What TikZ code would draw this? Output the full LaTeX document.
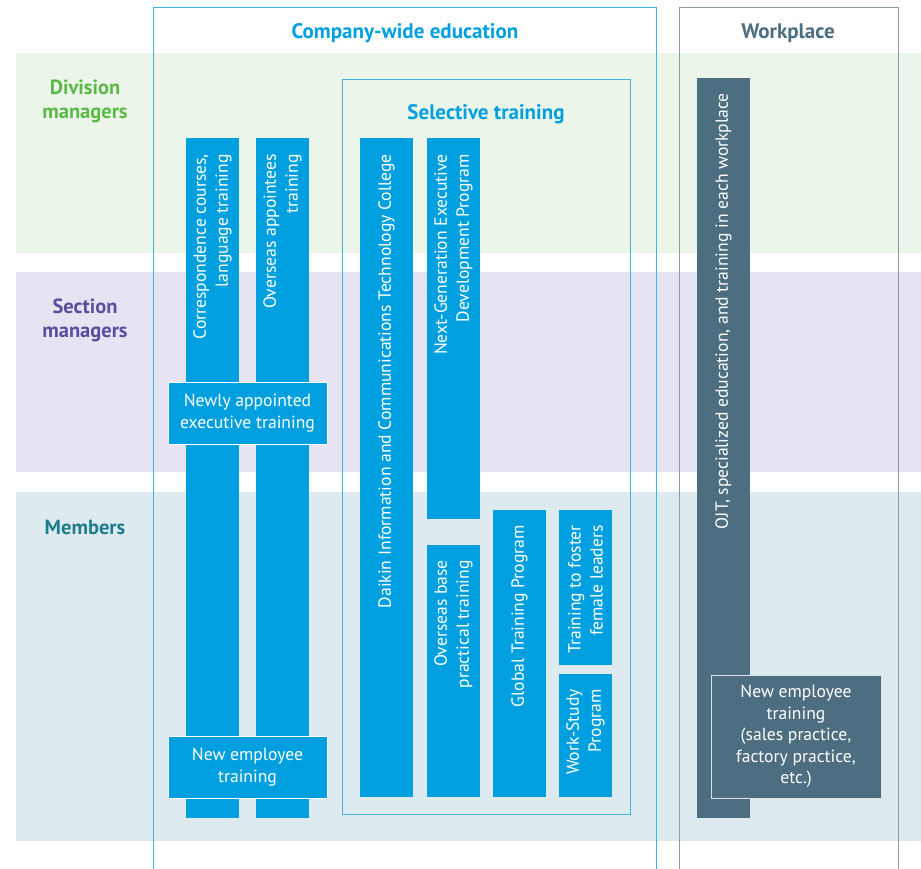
\documentclass[tikz,border=0pt]{standalone}
\usepackage{fontspec}
\setmainfont{PT Sans}
\definecolor{dblue}{HTML}{00A0E0}
\definecolor{lineblue}{HTML}{3DB3E6}
\definecolor{wgray}{HTML}{4D6E80}
\definecolor{wline}{HTML}{8A9BA5}
\definecolor{bandA}{HTML}{EBF5E9}
\definecolor{bandB}{HTML}{E6E4F2}
\definecolor{bandC}{HTML}{DDEBF0}
\definecolor{lgreen}{HTML}{5BB947}
\definecolor{lpurple}{HTML}{5A4E9E}
\definecolor{lteal}{HTML}{1F7C8C}
\begin{document}
\begin{tikzpicture}[x=1pt,y=-1pt,
  bar/.style={fill=dblue,draw=none,inner sep=0pt,outer sep=0pt,minimum width=53pt},
  gbar/.style={fill=wgray,draw=none,inner sep=0pt,outer sep=0pt,minimum width=53pt},
  vtext/.style={rotate=90,anchor=east,align=right,text=white,inner sep=0pt,font=\fontsize{17.6}{22}\selectfont},
  hbox/.style={fill=dblue,draw=white,line width=0.6pt,inner sep=0pt,align=center,text=white,font=\fontsize{17.6}{21.5}\selectfont},
  wbox/.style={fill=wgray,draw=white!80!wgray,line width=0.6pt,inner sep=0pt,align=center,text=white,font=\fontsize{17.6}{21.5}\selectfont},
  rowlab/.style={align=center,font=\bfseries\fontsize{20.5}{24}\selectfont},
  title/.style={font=\bfseries\fontsize{21}{24}\selectfont}]
\useasboundingbox (0,0) rectangle (921,868);
\fill[white] (0,0) rectangle (921,868);
% bands
\fill[bandA] (16,53) rectangle (921,253);
\fill[bandB] (16,272) rectangle (921,472);
\fill[bandC] (16,492) rectangle (921,841);
% row labels
\node[rowlab,text=lgreen] (rl1) at (85,101) {Division\\managers};
\node[rowlab,text=lpurple] (rl2) at (85,320) {Section\\managers};
\node[rowlab,text=lteal] (rl3) at (85,527) {Members};
% frames
\draw[lineblue,line width=0.8pt] (153,875) -- (153,7) -- (656,7) -- (656,875);
\draw[wline,line width=0.8pt] (679,875) -- (679,7) -- (898,7) -- (898,875);
\draw[lineblue,line width=0.8pt] (342,79) rectangle (630,814);
\node[title,text=dblue] (t1) at (405,33.5) {Company-wide education};
\node[title,text=wgray] (t2) at (788,33.5) {Workplace};
\node[title,text=dblue] (t3) at (486,114.5) {Selective training};
% left bars
\node[bar,minimum height=680pt] (b1) at (212.5,478) {};
\node[bar,minimum height=680pt] (b2) at (282.5,478) {};
\node[vtext] at ([yshift=-16pt]b1.north) {Correspondence courses,\\language training};
\node[vtext] at ([yshift=-16pt]b2.north) {Overseas appointees\\training};
\node[hbox,minimum width=159pt,minimum height=62pt] (newly) at (247.5,413) {Newly appointed\\executive training};
\node[hbox,minimum width=159pt,minimum height=62pt] (newemp) at (247.5,767) {New employee\\training};
% selective bars
\node[bar,minimum height=659pt] (daikin) at (386.5,467.5) {};
\node[bar,minimum height=381pt] (nextgen) at (453.5,328.5) {};
\node[bar,minimum height=252pt] (ovbase) at (453.5,671) {};
\node[bar,minimum height=287pt] (global) at (519.5,653.5) {};
\node[bar,minimum height=155pt] (female) at (585.5,587.5) {};
\node[bar,minimum height=123pt] (workstudy) at (585.5,735.5) {};
\node[vtext] at ([yshift=-16pt]daikin.north) {Daikin Information and Communications Technology College};
\node[vtext] at ([yshift=-16pt]nextgen.north) {Next-Generation Executive\\Development Program};
\node[vtext] at ([yshift=-15pt]ovbase.north) {Overseas base\\practical training};
\node[vtext] at ([yshift=-15pt]global.north) {Global Training Program};
\node[vtext] at ([yshift=-15pt]female.north) {Training to foster\\female leaders};
\node[vtext] at ([yshift=-15pt]workstudy.north) {Work-Study\\Program};
% workplace
\node[gbar,minimum height=740pt] (ojt) at (723.5,448) {};
\node[vtext] at ([yshift=-15pt]ojt.north) {OJT, specialized education, and training in each workplace};
\node[wbox,minimum width=170pt,minimum height=123pt] (wpnew) at (796,736.5) {New employee\\training\\(sales practice,\\factory practice,\\etc.)};
\end{tikzpicture}
\end{document}
